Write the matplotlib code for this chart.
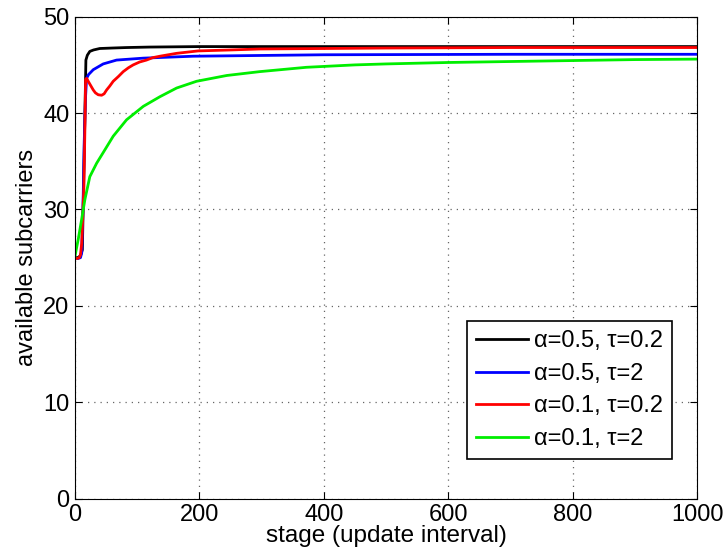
import numpy as np
import matplotlib.pyplot as plt

plt.rcParams['font.family'] = ['Liberation Sans', 'DejaVu Sans']

# values (stage, available subcarriers)
black_x = [0, 5, 9, 12, 15, 17.7, 20, 24, 30, 40, 60, 83, 120, 200, 400, 700, 1000]
black_y = [25.0, 25.0, 25.2, 25.8, 35.9, 45.5, 46.0, 46.4, 46.55, 46.7, 46.75, 46.8, 46.85, 46.9, 46.9, 46.9, 46.9]

blue_x = [0, 5, 9, 11, 13, 15, 17, 18.8, 22, 29.5, 45.5, 67, 110, 190, 400, 700, 1000]
blue_y = [25.0, 24.9, 25.0, 25.5, 30.0, 37.0, 41.5, 43.6, 44.0, 44.5, 45.1, 45.5, 45.7, 45.9, 46.05, 46.1, 46.1]

red_x = [0, 3.5, 7, 9, 11, 12.5, 14.5, 16, 17.2, 19, 21.4, 25, 29.5, 33, 37.5, 43, 47, 51, 56, 61.6, 70, 77.7,
         86, 93.7, 104, 115, 125, 136.7, 150, 163.5, 198, 250, 297, 400, 500, 700, 1000]
red_y = [25.0, 24.9, 25.0, 25.3, 26.5, 29.0, 32.4, 38.0, 43.5, 43.6, 43.3, 42.9, 42.4, 42.1, 41.9, 41.85, 42.0, 42.4, 42.8, 43.3, 43.8, 44.3,
         44.7, 45.0, 45.3, 45.5, 45.75, 45.9, 46.05, 46.2, 46.45, 46.55, 46.65, 46.7, 46.75, 46.8, 46.8]

green_x = [0, 5.4, 10.7, 16, 24, 35, 45.5, 61.6, 83, 110, 136.7, 163.5, 195.6, 244, 297, 372, 450, 500, 600, 700, 800, 900, 1000]
green_y = [25.1, 26.9, 28.9, 31.0, 33.4, 34.8, 35.9, 37.6, 39.3, 40.7, 41.7, 42.6, 43.3, 43.9, 44.3, 44.75, 45.0, 45.1, 45.25, 45.35, 45.45, 45.55, 45.6]

labels = ['α=0.5, τ=0.2', 'α=0.5, τ=2', 'α=0.1, τ=0.2', 'α=0.1, τ=2']
colors = ['black', 'blue', 'red', '#00ee00']

fig = plt.figure(figsize=(7.27, 5.57), dpi=100)
ax = fig.add_axes([0.103, 0.105, 0.856, 0.865])

series = [(black_x, black_y), (blue_x, blue_y), (red_x, red_y), (green_x, green_y)]
for (xs, ys), c, lab in zip(series, colors, labels):
    ax.plot(np.array(xs), np.array(ys), color=c, lw=2.0, label=lab)

ax.set_xlim(0, 1000)
ax.set_ylim(0, 50)
ax.set_xticks(np.arange(0, 1001, 200))
ax.set_yticks(np.arange(0, 51, 10))
ax.grid(True, linestyle=(0, (1, 4)), color='#666666', linewidth=0.9)
ax.tick_params(direction='in', top=True, right=True, labelsize=17, length=5, pad=4)
ax.set_xlabel('stage (update interval)', fontsize=17.5, labelpad=-1)
ax.set_ylabel('available subcarriers', fontsize=17, labelpad=4)

leg = ax.legend(loc='lower right', bbox_to_anchor=(0.960, 0.081), borderaxespad=0,
                fontsize=17, fancybox=False, framealpha=1, edgecolor='black',
                handlelength=2.2, handletextpad=0.25, labelspacing=0.45,
                borderpad=0.4)
leg.get_frame().set_linewidth(1.2)

fig.savefig('out.png', dpi=100)
